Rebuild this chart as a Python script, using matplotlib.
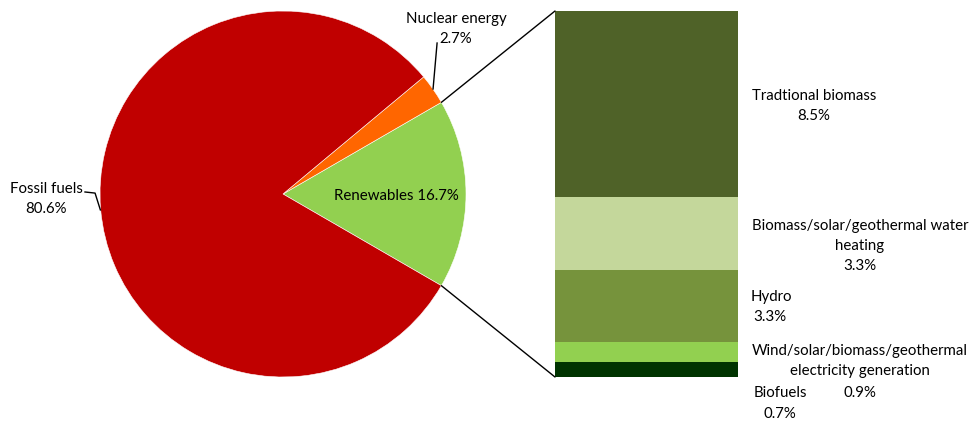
import numpy as np
import matplotlib
matplotlib.use("Agg")
import matplotlib.pyplot as plt
from matplotlib.patches import ConnectionPatch

plt.rcParams['font.family'] = ['Lato', 'DejaVu Sans']

# World final energy consumption shares (%)
pie_labels = ["Renewables", "Nuclear energy", "Fossil fuels"]
pie_values = [16.7, 2.7, 80.6]
pie_colors = ["#92D050", "#FF6600", "#C00000"]

# Breakdown of renewables (%), bottom to top
ren_labels = ["Biofuels",
              "Wind/solar/biomass/geothermal\nelectricity generation",
              "Hydro",
              "Biomass/solar/geothermal water\nheating",
              "Tradtional biomass"]
ren_values = [0.7, 0.9, 3.3, 3.3, 8.5]
ren_colors = ["#003300", "#92D050", "#76933C", "#C4D79B", "#4F6228"]

W, H = 974, 423
fig = plt.figure(figsize=(W / 100, H / 100), dpi=100)

fs = 10.8
ls = 1.55

# Pie axes
ax_pie = fig.add_axes([100 / W, 46 / H, 366 / W, 366 / H])
start = -pie_values[0] * 360 / 100 / 2
wedges, _ = ax_pie.pie(pie_values, colors=pie_colors, startangle=start,
                       counterclock=True, radius=1.0,
                       wedgeprops=dict(linewidth=0.4, edgecolor="white"))
ax_pie.set_xlim(-1, 1)
ax_pie.set_ylim(-1, 1)
ax_pie.set_aspect("equal")
ax_pie.axis("off")

ax_pie.text(0.617, -0.011, f"{pie_labels[0]} {pie_values[0]}%", ha="center",
            va="center", fontsize=fs, color="black", clip_on=False)
ax_pie.text(0.945, 0.90, f"{pie_labels[1]}\n{pie_values[1]}%", ha="center",
            va="center", fontsize=fs, linespacing=ls, clip_on=False)
ax_pie.plot([0.842, 0.82], [0.825, 0.574], color="black", lw=1, clip_on=False)
ax_pie.text(-1.295, -0.025, f"{pie_labels[2]}\n{pie_values[2]}%", ha="center",
            va="center", fontsize=fs, linespacing=ls, clip_on=False)
ax_pie.plot([-1.082, -1.027, -0.998], [0.011, 0.005, -0.087],
            color="black", lw=1, clip_on=False)

# Stacked bar axes
ax_bar = fig.add_axes([555 / W, 46 / H, 183 / W, 366 / H])
total = sum(ren_values)
bottom = 0.0
for v, c in zip(ren_values, ren_colors):
    ax_bar.bar(0, v, width=1, bottom=bottom, color=c, align="edge")
    bottom += v
ax_bar.set_xlim(0, 1)
ax_bar.set_ylim(0, total)
ax_bar.axis("off")

# Segment labels to the right of the bar
tr = ax_bar.get_yaxis_transform()
label_pos = [  # (x in axes units, y in data units)
    (1.23, -1.21),
    (1.667, 0.228),
    None,
    (1.667, 5.98),
    (1.415, 12.37),
]
for lab, v, pos in zip(ren_labels, ren_values, label_pos):
    if lab == "Hydro":
        ax_bar.text(1.071, 3.65, lab, ha="left", va="center", fontsize=fs,
                    transform=tr, clip_on=False)
        ax_bar.text(1.175, 2.74, f"{v}%", ha="center", va="center",
                    fontsize=fs, transform=tr, clip_on=False)
        continue
    lx, ly = pos
    if lab.startswith("Wind"):
        # name and value drawn separately so the value sits beside "Biofuels"
        ax_bar.text(lx, 0.73, lab, ha="center", va="center", fontsize=fs,
                    linespacing=ls, transform=tr, clip_on=False)
        ax_bar.text(lx, -0.73, f"{v}%", ha="center", va="center",
                    fontsize=fs, transform=tr, clip_on=False)
        continue
    ax_bar.text(lx, ly, f"{lab}\n{v}%", ha="center", va="center", fontsize=fs,
                linespacing=ls, transform=tr, clip_on=False)

# Connector lines from the renewables wedge to the bar
theta1 = np.deg2rad(start)
theta2 = np.deg2rad(start + pie_values[0] * 3.6)
for theta, ybar in [(theta2, total), (theta1, 0)]:
    con = ConnectionPatch(xyA=(np.cos(theta), np.sin(theta)), coordsA=ax_pie.transData,
                          xyB=(0, ybar), coordsB=ax_bar.transData,
                          color="black", lw=1)
    fig.add_artist(con)

fig.savefig("out.png", dpi=100)
